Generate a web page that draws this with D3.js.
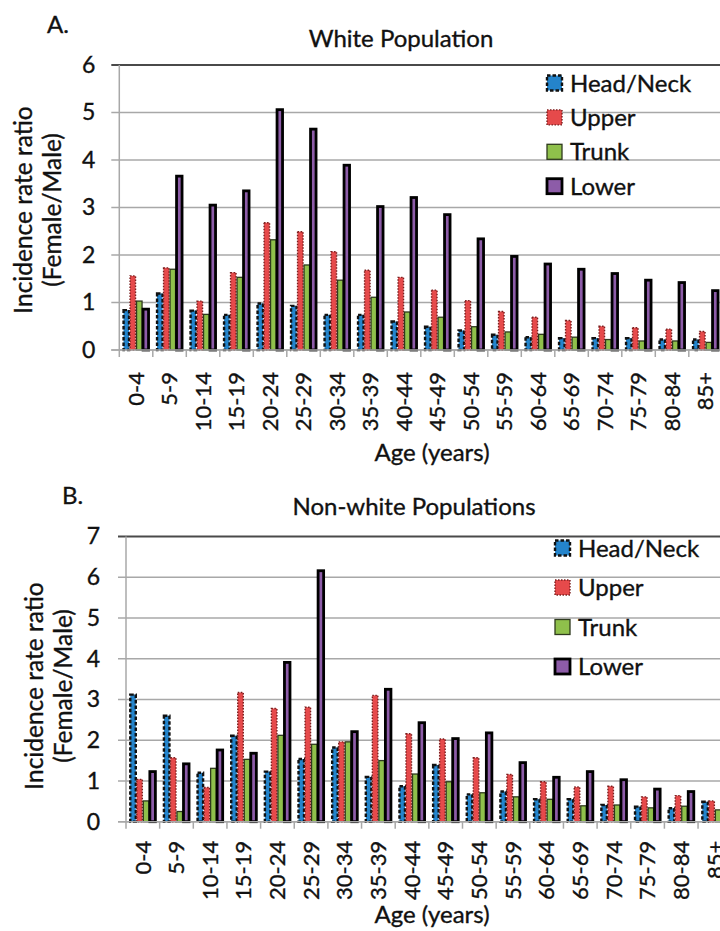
<!DOCTYPE html>
<html>
<head>
<meta charset="utf-8">
<script src="https://cdn.jsdelivr.net/npm/d3@7"></script>
<style>
  html, body { margin: 0; padding: 0; background: #fff; }
  svg { display: block; font-family: Lato, "Open Sans", sans-serif; }
  svg text { stroke: #111; stroke-width: 0.35px; }
</style>
</head>
<body>
<svg id="chart" width="720" height="931"></svg>
<script>
// ---------- data ----------
const ageGroups = ["0-4","5-9","10-14","15-19","20-24","25-29","30-34","35-39","40-44",
  "45-49","50-54","55-59","60-64","65-69","70-74","75-79","80-84","85+"];
const seriesNames = ["Head/Neck","Upper","Trunk","Lower"];

// Panel A: White population
const whiteHeadNeck = [0.84,1.19,0.83,0.74,0.98,0.93,0.74,0.74,0.60,0.49,0.41,0.32,0.27,0.25,0.25,0.25,0.22,0.22];
const whiteUpper    = [1.56,1.73,1.03,1.63,2.68,2.49,2.07,1.68,1.53,1.26,1.04,0.81,0.69,0.62,0.50,0.47,0.44,0.39];
const whiteTrunk    = [1.03,1.70,0.75,1.53,2.32,1.79,1.47,1.11,0.80,0.69,0.49,0.38,0.33,0.27,0.22,0.19,0.19,0.16];
const whiteLower    = [0.86,3.66,3.05,3.35,5.06,4.65,3.89,3.02,3.21,2.85,2.34,1.97,1.81,1.70,1.61,1.47,1.42,1.25];
const whiteTicks = [0,1,2,3,4,5,6];

// Panel B: Non-white populations
const nonwhiteHeadNeck = [3.12,2.60,1.20,2.11,1.23,1.54,1.82,1.10,0.87,1.39,0.67,0.74,0.55,0.55,0.41,0.37,0.33,0.49];
const nonwhiteUpper    = [1.04,1.57,0.84,3.17,2.78,2.81,1.96,3.10,2.16,2.03,1.57,1.16,0.98,0.85,0.87,0.61,0.64,0.51];
const nonwhiteTrunk    = [0.51,0.25,1.31,1.53,2.12,1.90,1.96,1.50,1.17,0.98,0.71,0.61,0.55,0.39,0.41,0.34,0.38,0.29];
const nonwhiteLower    = [1.23,1.42,1.76,1.68,3.91,6.16,2.21,3.25,2.43,2.04,2.18,1.45,1.09,1.23,1.03,0.80,0.74,0.83];
const nonwhiteTicks = [0,1,2,3,4,5,6,7];

// ---------- styles ----------
const seriesStyle = {
  "Head/Neck": {fill: "#2484cb", stroke: "#111", width: 2.4, dash: "3.5,2"},
  "Upper":     {fill: "#e64a4b", stroke: "#7a1f1f", width: 1.4, dash: "1.5,1.5"},
  "Trunk":     {fill: "#8fc04b", stroke: "#2f3a1e", width: 1.3, dash: null},
  "Lower":     {fill: "#8d5ca8", stroke: "#000", width: 2.8, dash: null}
};

const svg = d3.select("#chart");

function drawPanel(cfg) {
  const g = svg.append("g");
  const step = cfg.step;
  const x = d3.scaleBand()
    .domain(ageGroups)
    .range([cfg.left, cfg.left + step * ageGroups.length])
    .paddingInner(0.224)
    .paddingOuter(0.112);
  const xs = d3.scaleBand().domain(seriesNames).range([0, x.bandwidth()]).padding(0);
  const y = d3.scaleLinear().domain([0, cfg.max]).range([cfg.bottom, cfg.top]);
  const right = cfg.left + step * ageGroups.length;

  // gridlines + y tick marks
  g.append("g").selectAll("line").data(cfg.ticks).join("line")
    .attr("x1", cfg.left - 8).attr("x2", right)
    .attr("y1", d => y(d)).attr("y2", d => y(d))
    .attr("stroke", d => d === cfg.max ? "#4a4a4a" : "#a8a8a8")
    .attr("stroke-width", d => d === cfg.max ? 2 : 1.5);

  // y axis labels via d3 axis
  const ya = g.append("g").attr("transform", `translate(${cfg.left},0)`)
    .call(d3.axisLeft(y).tickValues(cfg.ticks).tickFormat(d3.format("d")).tickSize(0).tickPadding(cfg.tickPad));
  ya.select(".domain").remove();
  ya.selectAll("text").attr("font-size", 23).attr("fill", "#111").attr("font-family", "Lato, sans-serif");

  // y axis line
  g.append("line").attr("x1", cfg.left).attr("x2", cfg.left)
    .attr("y1", cfg.top).attr("y2", cfg.bottom)
    .attr("stroke", "#a8a8a8").attr("stroke-width", 1.5);

  // bars
  const data = [];
  ageGroups.forEach((a, i) => {
    seriesNames.forEach((s, j) => data.push({age: a, series: s, value: cfg.values[j][i]}));
  });
  g.append("g").selectAll("rect").data(data).join("rect")
    .attr("x", d => x(d.age) + xs(d.series) + 0.5)
    .attr("width", xs.bandwidth() - 1)
    .attr("y", d => y(d.value))
    .attr("height", d => y(0) - y(d.value))
    .attr("fill", d => seriesStyle[d.series].fill)
    .attr("stroke", d => seriesStyle[d.series].stroke)
    .attr("stroke-width", d => seriesStyle[d.series].width)
    .attr("stroke-dasharray", d => seriesStyle[d.series].dash);

  // x axis line and ticks at category boundaries
  g.append("line").attr("x1", cfg.left - 8).attr("x2", right)
    .attr("y1", cfg.bottom).attr("y2", cfg.bottom)
    .attr("stroke", "#a8a8a8").attr("stroke-width", 1.5);
  const bounds = ageGroups.map(a => x(a) - x.step() * x.paddingInner() / 2);
  bounds.push(right);
  g.append("g").selectAll("line").data(bounds).join("line")
    .attr("x1", d => d).attr("x2", d => d)
    .attr("y1", cfg.bottom).attr("y2", cfg.bottom + 7)
    .attr("stroke", "#a8a8a8").attr("stroke-width", 1.5);

  // x labels rotated
  const xa = g.append("g").attr("transform", `translate(0,${cfg.bottom})`)
    .call(d3.axisBottom(x).tickSize(0));
  xa.select(".domain").remove();
  xa.selectAll("text")
    .attr("font-size", 22).attr("fill", "#111").attr("font-family", "Lato, sans-serif")
    .attr("text-anchor", "end")
    .attr("transform", `translate(0,${cfg.labelTop}) rotate(-90)`)
    .attr("x", 0).attr("y", 0).attr("dy", "0.35em");

  // axis title
  g.append("text").attr("x", cfg.xTitleX).attr("y", cfg.xTitleY)
    .attr("text-anchor", "middle").attr("font-size", 24).attr("fill", "#111")
    .text("Age (years)");

  // y title
  const yt = g.append("text")
    .attr("transform", `translate(0,${cfg.yTitleCenter}) rotate(-90)`)
    .attr("text-anchor", "middle").attr("font-size", 24.5).attr("fill", "#111");
  yt.append("tspan").attr("x", 0).attr("y", cfg.yTitleBase[0]).text("Incidence rate ratio");
  yt.append("tspan").attr("x", 0).attr("y", cfg.yTitleBase[1]).text("(Female/Male)");

  // chart title and panel letter
  g.append("text").attr("x", cfg.titleX).attr("y", cfg.titleY)
    .attr("text-anchor", "middle").attr("font-size", 24).attr("fill", "#111").text(cfg.title);
  g.append("text").attr("x", cfg.letterX).attr("y", cfg.letterY)
    .attr("font-size", 24).attr("fill", "#111").text(cfg.letter);

  // legend
  const lg = g.append("g").selectAll("g").data(seriesNames).join("g")
    .attr("transform", (d, i) => `translate(${cfg.legendX},${cfg.legendY + i * cfg.legendGap})`);
  lg.append("rect").attr("x", 0).attr("y", -7.5).attr("width", 15).attr("height", 15)
    .attr("fill", d => seriesStyle[d].fill)
    .attr("stroke", d => seriesStyle[d].stroke)
    .attr("stroke-width", d => seriesStyle[d].width)
    .attr("stroke-dasharray", d => seriesStyle[d].dash);
  lg.append("text").attr("x", 23).attr("y", 0).attr("dy", "0.36em")
    .attr("font-size", 24).attr("fill", "#111").text(d => d);
}

drawPanel({
  letter: "A.", letterX: 47, letterY: 33,
  title: "White Population", titleX: 401, titleY: 47,
  left: 119.3, step: 33.5, top: 65, bottom: 350, max: 6, ticks: whiteTicks,
  tickPad: 24,
  values: [whiteHeadNeck, whiteUpper, whiteTrunk, whiteLower],
  labelTop: 22,
  xTitleX: 432, xTitleY: 461,
  yTitleCenter: 210, yTitleBase: [32, 61],
  legendX: 547, legendY: 83, legendGap: 34.4
});

drawPanel({
  letter: "B.", letterX: 62, letterY: 504,
  title: "Non-white Populations", titleX: 414, titleY: 515,
  left: 126, step: 33.65, top: 536.5, bottom: 821.7, max: 7, ticks: nonwhiteTicks,
  tickPad: 26,
  values: [nonwhiteHeadNeck, nonwhiteUpper, nonwhiteTrunk, nonwhiteLower],
  labelTop: 19,
  xTitleX: 432, xTitleY: 923,
  yTitleCenter: 686, yTitleBase: [43, 72],
  legendX: 555, legendY: 548, legendGap: 39.5
});
</script>
</body>
</html>
